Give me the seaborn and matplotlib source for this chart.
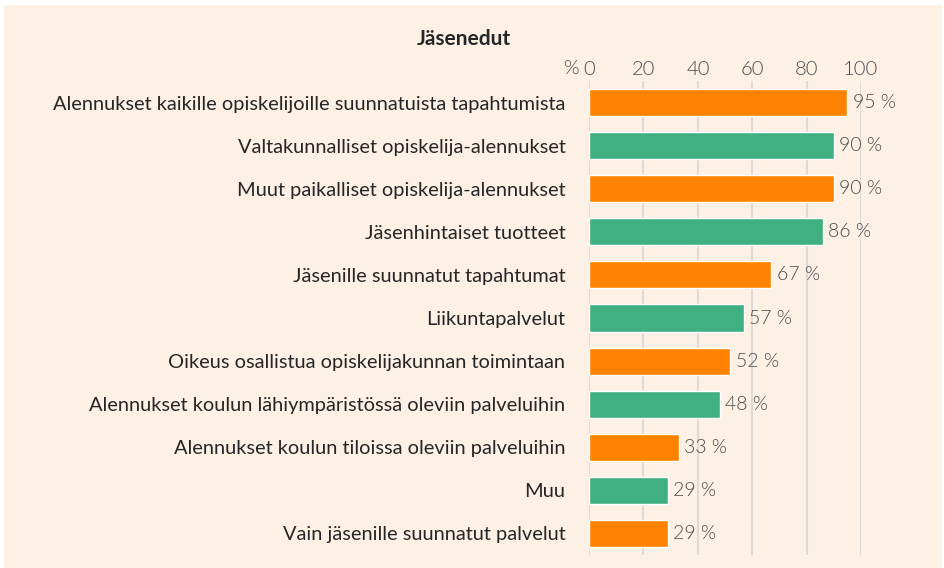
import pandas as pd
import numpy as np
import seaborn as sns
import matplotlib.pyplot as plt
from matplotlib.patches import Rectangle

categories = ['Alennukset kaikille opiskelijoille suunnatuista tapahtumista',
              'Valtakunnalliset opiskelija-alennukset',
              'Muut paikalliset opiskelija-alennukset',
              'Jäsenhintaiset tuotteet',
              'Jäsenille suunnatut tapahtumat',
              'Liikuntapalvelut',
              'Oikeus osallistua opiskelijakunnan toimintaan',
              'Alennukset koulun lähiympäristössä oleviin palveluihin',
              'Alennukset koulun tiloissa oleviin palveluihin',
              'Muu',
              'Vain jäsenille suunnatut palvelut']
values = [95, 90, 90, 86, 67, 57, 52, 48, 33, 29, 29]
groups = ['a', 'b', 'a', 'b', 'a', 'b', 'a', 'b', 'a', 'b', 'a']
ticks = [0, 20, 40, 60, 80, 100]

df = pd.DataFrame({'item': categories, 'pct': values, 'grp': groups})

sns.set_style('white')
plt.rcParams['font.family'] = ['Lato', 'DejaVu Sans']

bg = '#FDF1E6'
grey = '#4a4a4a'
fig = plt.figure(figsize=(9.44, 5.68), dpi=100)
fig.patch.set_facecolor('white')
fig.patches.append(Rectangle((4 / 944, 0), 938 / 944, 563 / 568, transform=fig.transFigure,
                             facecolor=bg, edgecolor='none', zorder=-10))

ax = fig.add_axes([589 / 944, 13 / 568, 272 / 944, 474 / 568])
ax.patch.set_alpha(0)

sns.barplot(data=df, x='pct', y='item', hue='grp', palette={'a': '#FF8300', 'b': '#41B080'},
            width=0.63, dodge=False, legend=False, ax=ax, saturation=1, zorder=3)

ax.set_xlim(0, 100)
ax.set_ylim(10.5, -0.5)
ax.set_xticks(ticks)
ax.xaxis.tick_top()
ax.tick_params(axis='x', length=0, pad=2, labelsize=14.5, labelcolor=grey)
for t in ax.get_xticklabels():
    t.set_fontweight(300)
ax.tick_params(axis='y', length=0, pad=17, labelsize=14.4, labelcolor='#262626')
ax.grid(axis='x', color='#DEDAD6', linewidth=1.5, zorder=0)
for s in ax.spines.values():
    s.set_visible(False)
ax.set_xlabel('')
ax.set_ylabel('')

# the "%" sign left of the zero tick
fig.text(580 / 944, 1 - 69 / 568, '%', ha='right', va='center',
         fontsize=14.5, color=grey, fontweight=300)
fig.text(417 / 944, 1 - 39 / 568, 'Jäsenedut', ha='left', va='center',
         fontsize=15, fontweight='bold', color='#262626')

for i, v in enumerate(values):
    ax.text(v + 2, i, f'{v} %', va='center', ha='left', fontsize=14,
            color=grey, fontweight=300, clip_on=False)

fig.savefig('out.png', dpi=100, facecolor=fig.get_facecolor())
